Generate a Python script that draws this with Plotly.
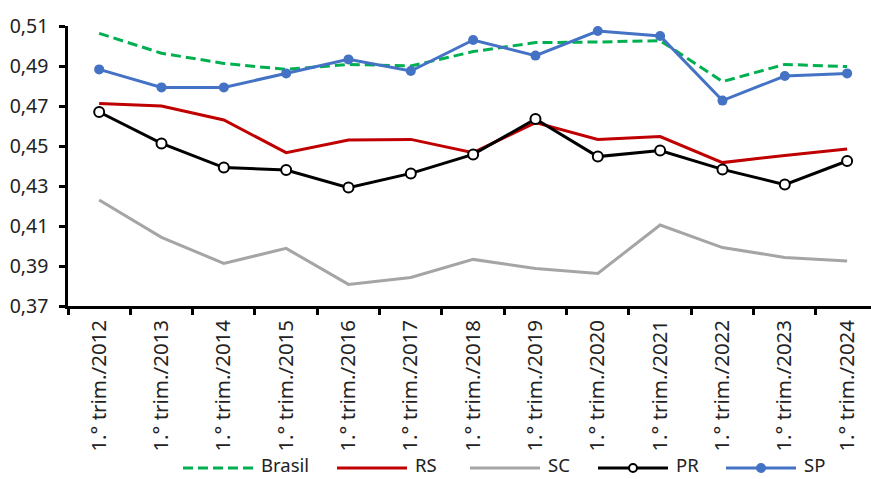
import plotly.graph_objects as go

# Quarter labels (first quarter of each year)
periodos = [
    "1.° trim./2012", "1.° trim./2013", "1.° trim./2014", "1.° trim./2015",
    "1.° trim./2016", "1.° trim./2017", "1.° trim./2018", "1.° trim./2019",
    "1.° trim./2020", "1.° trim./2021", "1.° trim./2022", "1.° trim./2023",
    "1.° trim./2024",
]

# Gini index per region
brasil = [0.5063, 0.4964, 0.4913, 0.4883, 0.4908, 0.4900, 0.4972, 0.5017,
          0.5020, 0.5027, 0.4822, 0.4908, 0.4897]
rs = [0.4713, 0.4700, 0.4630, 0.4467, 0.4530, 0.4533, 0.4467, 0.4617,
      0.4533, 0.4547, 0.4417, 0.4453, 0.4485]
sc = [0.4230, 0.4043, 0.3913, 0.3988, 0.3808, 0.3843, 0.3933, 0.3888,
      0.3863, 0.4105, 0.3992, 0.3943, 0.3925]
pr = [0.4670, 0.4513, 0.4392, 0.4380, 0.4292, 0.4363, 0.4458, 0.4635,
      0.4447, 0.4477, 0.4383, 0.4307, 0.4425]
sp = [0.4883, 0.4793, 0.4793, 0.4863, 0.4933, 0.4875, 0.5030, 0.4952,
      0.5075, 0.5050, 0.4727, 0.4850, 0.4863]

y_ticks = [0.37, 0.39, 0.41, 0.43, 0.45, 0.47, 0.49, 0.51]

FONT = "Noto Sans"
TXT = "#222222"

series = [
    dict(name="Brasil", y=brasil, color="#00B050", dash="10px,5px", marker=None),
    dict(name="RS", y=rs, color="#C00000", dash="solid", marker=None),
    dict(name="SC", y=sc, color="#A5A5A5", dash="solid", marker=None),
    dict(name="PR", y=pr, color="#000000", dash="solid", marker="open"),
    dict(name="SP", y=sp, color="#4472C4", dash="solid", marker="filled"),
]

fig = go.Figure()
for s in series:
    kw = dict(mode="lines")
    if s["marker"] == "open":
        kw = dict(mode="lines+markers",
                  marker=dict(size=10, color="white",
                              line=dict(color=s["color"], width=2)))
    elif s["marker"] == "filled":
        kw = dict(mode="lines+markers",
                  marker=dict(size=10, color=s["color"]))
    fig.add_trace(go.Scatter(
        x=periodos, y=s["y"], name=s["name"],
        line=dict(color=s["color"], width=3, dash=s["dash"]),
        showlegend=False, **kw))

# Custom legend row below the axis labels (paper coordinates)
L, T, B, W = 68, 26, 306, 803
def px_x(p):
    return (p - L) / W
def px_y(p):
    return (B - p) / (B - T)

leg_line_y = px_y(468)
leg_text_bottom = px_y(479)
leg_starts = [183, 337, 470, 598, 726]
shapes = []
annotations = []
for s, x0 in zip(series, leg_starts):
    x1 = x0 + 70
    shapes.append(dict(type="line", xref="paper", yref="paper",
                       x0=px_x(x0), x1=px_x(x1), y0=leg_line_y, y1=leg_line_y,
                       line=dict(color=s["color"], width=3,
                                 dash="10px,5px" if s["dash"] != "solid" else "solid")))
    if s["marker"]:
        fill = "white" if s["marker"] == "open" else s["color"]
        shapes.append(dict(type="circle", xref="paper", yref="paper",
                           xsizemode="pixel", ysizemode="pixel",
                           xanchor=px_x(x0 + 35), yanchor=leg_line_y,
                           x0=-4, x1=4, y0=-4, y1=4,
                           fillcolor=fill,
                           line=dict(color=s["color"], width=2)))
    annotations.append(dict(text=s["name"], xref="paper", yref="paper",
                            x=px_x(x1 + 6), y=leg_text_bottom, xanchor="left",
                            yanchor="bottom", showarrow=False,
                            font=dict(family=FONT, size=18.5, color=TXT)))

fig.update_layout(
    width=871, height=479,
    margin=dict(l=L, r=0, t=T, b=479 - B),
    paper_bgcolor="white", plot_bgcolor="white",
    separators=",.",
    font=dict(family=FONT, size=19, color=TXT),
    shapes=shapes, annotations=annotations,
    showlegend=False,
)
fig.update_xaxes(
    type="category", range=[-0.5, 12.383],
    tickson="boundaries", ticks="outside", ticklen=6, tickwidth=2.5,
    tickcolor="black", tickangle=-90, ticklabelstandoff=3,
    showline=True, linecolor="black", linewidth=2.5,
    showgrid=False, zeroline=False,
    tickfont=dict(family=FONT, size=20.5, color=TXT),
)
fig.update_yaxes(
    range=[0.37, 0.51], tickvals=y_ticks, tickformat=".2f",
    ticks="outside", ticklen=6, tickwidth=2.5, tickcolor="black",
    ticklabelstandoff=7,
    showline=True, linecolor="black", linewidth=2.5,
    showgrid=False, zeroline=False,
    tickfont=dict(family=FONT, size=19.5, color=TXT),
)

fig.write_html("out.html")
